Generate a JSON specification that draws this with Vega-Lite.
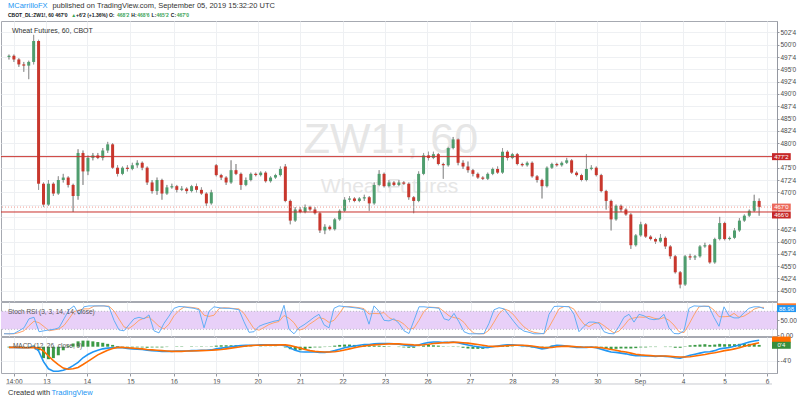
{
"$schema":"https://vega.github.io/schema/vega-lite/v6.json",
"background":"white",
"padding":{"left":0,"top":1,"right":0,"bottom":0},
"spacing":1,
"bounds":"flush",
"config":{
 "font":"Liberation Sans",
 "view":{"stroke":"#a6a9b1","strokeWidth":1},
 "axis":{"labelFont":"Liberation Sans","labelFontSize":6.5,"labelColor":"#4a4a4a","tickColor":"#9598a1","domainColor":"#9598a1","gridColor":"#eef0f3","tickSize":2,"labelPadding":1,"labelOverlap":false},
 "text":{"font":"Liberation Sans"}
},
"datasets":{
 "one":[{}],
 "levels":[{"p":477.25,"lab":"477'2","kind":"line"},{"p":466,"lab":"466'0","kind":"line"},{"p":467,"lab":"467'0","kind":"last"}],
 "band":[{"lo":20,"hi":80}],
 "bars":[
{"i":0,"o":497.5,"h":498,"l":497,"c":497.75,"k":5,"d":6,"m":-0.2,"s":-0.2,"hs":-0.2},
{"i":1,"o":497.75,"h":498,"l":496.5,"c":497,"k":5,"d":5,"m":-0.2,"s":-0.2,"hs":-0.2},
{"i":2,"o":497,"h":497.25,"l":495.5,"c":496,"k":6,"d":5,"m":-0.3,"s":-0.2,"hs":-0.3},
{"i":3,"o":496,"h":496.5,"l":494.5,"c":495.75,"k":15,"d":9,"m":-0.3,"s":-0.25,"hs":-0.2},
{"i":4,"o":495.75,"h":496.75,"l":493,"c":496.5,"k":25,"d":15,"m":-0.3,"s":-0.3,"hs":-0.2},
{"i":5,"o":496.5,"h":502,"l":496,"c":500.75,"k":55,"d":32,"m":0.1,"s":-0.2,"hs":0.3},
{"i":6,"o":500.75,"h":501,"l":470.5,"c":471.75,"k":60,"d":47,"m":-1.2,"s":-0.4,"hs":-1.0},
{"i":7,"o":471.75,"h":472,"l":467,"c":467.5,"k":12,"d":42,"m":-4.2,"s":-1.2,"hs":-3.2},
{"i":8,"o":467.5,"h":472.5,"l":467.25,"c":471.75,"k":15,"d":29,"m":-6.2,"s":-2.6,"hs":-3.5},
{"i":9,"o":471.75,"h":472,"l":469.25,"c":469.75,"k":18,"d":15,"m":-6.9,"s":-3.9,"hs":-3.2},
{"i":10,"o":469.75,"h":473.25,"l":469.5,"c":472.5,"k":20,"d":18,"m":-6.9,"s":-5.0,"hs":-2.4},
{"i":11,"o":472.5,"h":473.75,"l":472,"c":473,"k":25,"d":21,"m":-6.6,"s":-6.0,"hs":-1.0},
{"i":12,"o":473,"h":473.25,"l":471,"c":471.5,"k":55,"d":33,"m":-6.1,"s":-6.3,"hs":0.3},
{"i":13,"o":471.5,"h":471.75,"l":466,"c":469.25,"k":85,"d":55,"m":-5.3,"s":-6.2,"hs":0.9},
{"i":14,"o":469.25,"h":478.75,"l":468.5,"c":478,"k":98,"d":79,"m":-4.4,"s":-5.8,"hs":1.5},
{"i":15,"o":478,"h":478.5,"l":471.5,"c":474.25,"k":70,"d":84,"m":-3.1,"s":-5.0,"hs":1.7},
{"i":16,"o":474.25,"h":477.5,"l":473.5,"c":477,"k":95,"d":88,"m":-2.2,"s":-4.1,"hs":1.7},
{"i":17,"o":477,"h":478,"l":476.5,"c":477.5,"k":98,"d":88,"m":-1.5,"s":-3.2,"hs":1.5},
{"i":18,"o":477.5,"h":478,"l":476.75,"c":477,"k":98,"d":97,"m":-1.0,"s":-2.3,"hs":1.3},
{"i":19,"o":477,"h":479,"l":476.5,"c":478.5,"k":98,"d":98,"m":-0.6,"s":-1.6,"hs":1.1},
{"i":20,"o":478.5,"h":480.25,"l":478,"c":479.75,"k":98,"d":98,"m":-0.4,"s":-1.0,"hs":0.8},
{"i":21,"o":479.75,"h":480,"l":474.75,"c":475,"k":95,"d":97,"m":-0.3,"s":-0.5,"hs":0.5},
{"i":22,"o":475,"h":475.5,"l":473.25,"c":473.75,"k":50,"d":81,"m":-0.2,"s":-0.2,"hs":0.2},
{"i":23,"o":473.75,"h":475.25,"l":473.5,"c":475,"k":18,"d":54,"m":-0.3,"s":-0.2,"hs":-0.1},
{"i":24,"o":475,"h":475.5,"l":474.25,"c":474.75,"k":15,"d":28,"m":-0.5,"s":-0.3,"hs":-0.2},
{"i":25,"o":474.75,"h":476,"l":474.5,"c":475.5,"k":35,"d":23,"m":-0.6,"s":-0.4,"hs":-0.2},
{"i":26,"o":475.5,"h":476.5,"l":475,"c":476,"k":55,"d":35,"m":-0.7,"s":-0.5,"hs":-0.2},
{"i":27,"o":476,"h":476.25,"l":474.5,"c":475,"k":60,"d":50,"m":-0.8,"s":-0.6,"hs":-0.2},
{"i":28,"o":475,"h":475.25,"l":471.5,"c":472,"k":55,"d":57,"m":-1.0,"s":-0.8,"hs":-0.3},
{"i":29,"o":472,"h":472.5,"l":469.75,"c":470.25,"k":68,"d":61,"m":-1.1,"s":-0.9,"hs":-0.2},
{"i":30,"o":470.25,"h":473,"l":469.5,"c":472.5,"k":15,"d":46,"m":-1.2,"s":-1.0,"hs":-0.2},
{"i":31,"o":472.5,"h":472.75,"l":468.5,"c":469.75,"k":8,"d":30,"m":-1.3,"s":-1.1,"hs":-0.2},
{"i":32,"o":469.75,"h":471.5,"l":469.5,"c":471,"k":40,"d":21,"m":-1.3,"s":-1.2,"hs":-0.1},
{"i":33,"o":471,"h":471.75,"l":470.75,"c":471.25,"k":64,"d":37,"m":-1.3,"s":-1.3,"hs":0.0},
{"i":34,"o":471.25,"h":471.5,"l":470,"c":470.5,"k":90,"d":65,"m":-1.2,"s":-1.3,"hs":0.1},
{"i":35,"o":470.5,"h":471.25,"l":470.25,"c":470.75,"k":96,"d":83,"m":-1.2,"s":-1.3,"hs":0.1},
{"i":36,"o":470.75,"h":471,"l":469.75,"c":470.25,"k":95,"d":94,"m":-1.2,"s":-1.2,"hs":0.0},
{"i":37,"o":470.25,"h":471.5,"l":470,"c":471.25,"k":92,"d":94,"m":-1.1,"s":-1.2,"hs":0.1},
{"i":38,"o":471.25,"h":471.75,"l":470,"c":470.5,"k":90,"d":92,"m":-1.1,"s":-1.15,"hs":0.05},
{"i":39,"o":470.5,"h":471,"l":469.5,"c":469.75,"k":85,"d":89,"m":-1.0,"s":-1.1,"hs":0.1},
{"i":40,"o":469.75,"h":470,"l":467.25,"c":467.75,"k":25,"d":67,"m":-1.0,"s":-1.05,"hs":0.05},
{"i":41,"o":467.75,"h":470.5,"l":467.5,"c":470,"k":80,"d":63,"m":-0.9,"s":-1.0,"hs":0.1},
{"i":42,"o":475.5,"h":475.75,"l":473.25,"c":473.5,"k":95,"d":67,"m":-0.6,"s":-0.9,"hs":0.3},
{"i":43,"o":473.5,"h":473.75,"l":472.5,"c":473,"k":92,"d":89,"m":-0.4,"s":-0.8,"hs":0.4},
{"i":44,"o":473,"h":473.25,"l":471.5,"c":472,"k":90,"d":92,"m":-0.2,"s":-0.6,"hs":0.4},
{"i":45,"o":472,"h":476.5,"l":471.75,"c":474.5,"k":90,"d":91,"m":0.0,"s":-0.4,"hs":0.4},
{"i":46,"o":474.5,"h":475.75,"l":473.5,"c":473.75,"k":88,"d":89,"m":0.2,"s":-0.2,"hs":0.4},
{"i":47,"o":473.75,"h":474,"l":470.5,"c":471.5,"k":85,"d":88,"m":0.3,"s":0.0,"hs":0.3},
{"i":48,"o":471.5,"h":473,"l":471.25,"c":472.5,"k":45,"d":73,"m":0.4,"s":0.2,"hs":0.2},
{"i":49,"o":472.5,"h":474,"l":472.25,"c":473.75,"k":10,"d":47,"m":0.4,"s":0.3,"hs":0.1},
{"i":50,"o":473.75,"h":474,"l":473.25,"c":473.5,"k":12,"d":22,"m":0.4,"s":0.4,"hs":0.0},
{"i":51,"o":473.5,"h":474.25,"l":473.25,"c":474,"k":30,"d":17,"m":0.5,"s":0.4,"hs":0.1},
{"i":52,"o":474,"h":474.25,"l":472,"c":472.25,"k":37,"d":26,"m":0.5,"s":0.45,"hs":0.05},
{"i":53,"o":472.25,"h":473.25,"l":472,"c":473,"k":42,"d":36,"m":0.5,"s":0.45,"hs":0.05},
{"i":54,"o":473,"h":473.75,"l":472.75,"c":473.5,"k":47,"d":42,"m":0.5,"s":0.45,"hs":0.05},
{"i":55,"o":473.5,"h":475.25,"l":473.25,"c":474.75,"k":50,"d":46,"m":0.5,"s":0.5,"hs":0.0},
{"i":56,"o":475.25,"h":475.75,"l":468,"c":468.25,"k":100,"d":66,"m":0.3,"s":0.5,"hs":-0.2},
{"i":57,"o":468.25,"h":468.5,"l":463.5,"c":464.25,"k":20,"d":57,"m":-0.4,"s":0.3,"hs":-0.7},
{"i":58,"o":464.25,"h":467,"l":464,"c":466.5,"k":5,"d":42,"m":-1.0,"s":0.0,"hs":-1.0},
{"i":59,"o":466.5,"h":467,"l":465.75,"c":466,"k":25,"d":17,"m":-1.4,"s":-0.4,"hs":-1.0},
{"i":60,"o":466,"h":467.5,"l":465.75,"c":467,"k":35,"d":22,"m":-1.5,"s":-0.8,"hs":-0.7},
{"i":61,"o":467,"h":467.25,"l":466.25,"c":466.5,"k":47,"d":36,"m":-1.5,"s":-1.1,"hs":-0.4},
{"i":62,"o":466.5,"h":467,"l":465.5,"c":465.75,"k":60,"d":47,"m":-1.5,"s":-1.3,"hs":-0.2},
{"i":63,"o":465.75,"h":466,"l":461.75,"c":462.25,"k":70,"d":59,"m":-1.6,"s":-1.4,"hs":-0.2},
{"i":64,"o":462.25,"h":463.5,"l":461.5,"c":463,"k":35,"d":55,"m":-1.6,"s":-1.5,"hs":-0.1},
{"i":65,"o":463,"h":463.25,"l":462.25,"c":462.5,"k":25,"d":43,"m":-1.4,"s":-1.5,"hs":0.1},
{"i":66,"o":462.5,"h":464.75,"l":462.25,"c":464.5,"k":90,"d":50,"m":-1.1,"s":-1.4,"hs":0.3},
{"i":67,"o":464.5,"h":466.5,"l":464.25,"c":466.25,"k":98,"d":71,"m":-0.7,"s":-1.2,"hs":0.5},
{"i":68,"o":466.25,"h":469,"l":466,"c":468.5,"k":96,"d":95,"m":-0.3,"s":-0.9,"hs":0.6},
{"i":69,"o":468.5,"h":469.25,"l":468,"c":468.75,"k":94,"d":96,"m":0.0,"s":-0.6,"hs":0.6},
{"i":70,"o":468.75,"h":469,"l":468,"c":468.25,"k":92,"d":94,"m":0.2,"s":-0.3,"hs":0.5},
{"i":71,"o":468.25,"h":469,"l":468,"c":468.75,"k":90,"d":92,"m":0.4,"s":0.0,"hs":0.4},
{"i":72,"o":468.75,"h":469.5,"l":468.25,"c":469,"k":85,"d":89,"m":0.6,"s":0.2,"hs":0.4},
{"i":73,"o":469,"h":469.25,"l":466.25,"c":467.75,"k":37,"d":71,"m":0.6,"s":0.4,"hs":0.2},
{"i":74,"o":467.75,"h":472,"l":467.5,"c":471.5,"k":98,"d":73,"m":0.8,"s":0.5,"hs":0.3},
{"i":75,"o":471.5,"h":474.5,"l":471.25,"c":473.75,"k":80,"d":72,"m":0.9,"s":0.6,"hs":0.3},
{"i":76,"o":473.75,"h":474,"l":471,"c":471.25,"k":50,"d":76,"m":0.9,"s":0.7,"hs":0.2},
{"i":77,"o":471.25,"h":472.5,"l":471,"c":472,"k":48,"d":59,"m":0.9,"s":0.8,"hs":0.1},
{"i":78,"o":472,"h":472.25,"l":471.25,"c":471.5,"k":55,"d":51,"m":0.8,"s":0.8,"hs":0.0},
{"i":79,"o":471.5,"h":472.5,"l":471.25,"c":472,"k":40,"d":48,"m":0.7,"s":0.8,"hs":-0.1},
{"i":80,"o":472,"h":472.25,"l":471.5,"c":471.75,"k":15,"d":37,"m":0.5,"s":0.7,"hs":-0.2},
{"i":81,"o":471.75,"h":472,"l":468.5,"c":469,"k":6,"d":20,"m":0.3,"s":0.6,"hs":-0.3},
{"i":82,"o":469,"h":469.25,"l":465.75,"c":468.25,"k":50,"d":24,"m":0.2,"s":0.5,"hs":-0.3},
{"i":83,"o":468.25,"h":474.25,"l":468,"c":473.75,"k":95,"d":50,"m":0.5,"s":0.45,"hs":0.05},
{"i":84,"o":473.75,"h":478,"l":473.5,"c":477.5,"k":95,"d":80,"m":0.9,"s":0.55,"hs":0.35},
{"i":85,"o":477.5,"h":478.25,"l":476.5,"c":477,"k":93,"d":94,"m":1.2,"s":0.7,"hs":0.5},
{"i":86,"o":477,"h":478.25,"l":476.75,"c":477.75,"k":92,"d":93,"m":1.3,"s":0.9,"hs":0.4},
{"i":87,"o":477.75,"h":478,"l":475.5,"c":475.75,"k":90,"d":92,"m":1.3,"s":1.0,"hs":0.3},
{"i":88,"o":475.75,"h":476,"l":472.75,"c":475.5,"k":55,"d":79,"m":1.2,"s":1.1,"hs":0.1},
{"i":89,"o":475.5,"h":479.25,"l":475.25,"c":479,"k":50,"d":65,"m":1.2,"s":1.15,"hs":0.05},
{"i":90,"o":479,"h":481.25,"l":478.75,"c":480.75,"k":73,"d":59,"m":1.3,"s":1.2,"hs":0.1},
{"i":91,"o":480.75,"h":481,"l":475.5,"c":476,"k":45,"d":56,"m":1.1,"s":1.2,"hs":-0.1},
{"i":92,"o":476,"h":476.5,"l":474.75,"c":475.25,"k":12,"d":43,"m":0.8,"s":1.1,"hs":-0.3},
{"i":93,"o":475.25,"h":476.25,"l":474,"c":474.5,"k":5,"d":21,"m":0.5,"s":1.0,"hs":-0.5},
{"i":94,"o":474.5,"h":474.75,"l":473.25,"c":473.75,"k":5,"d":7,"m":0.2,"s":0.8,"hs":-0.6},
{"i":95,"o":473.75,"h":474,"l":472.75,"c":473,"k":5,"d":5,"m":0.0,"s":0.6,"hs":-0.6},
{"i":96,"o":473,"h":473.25,"l":472.5,"c":472.75,"k":6,"d":5,"m":-0.2,"s":0.4,"hs":-0.6},
{"i":97,"o":472.75,"h":474,"l":472.5,"c":473.75,"k":40,"d":17,"m":-0.2,"s":0.2,"hs":-0.4},
{"i":98,"o":473.75,"h":475,"l":473.5,"c":474.75,"k":85,"d":44,"m":0.0,"s":0.1,"hs":-0.1},
{"i":99,"o":474.75,"h":475.25,"l":473.75,"c":474,"k":92,"d":72,"m":0.2,"s":0.1,"hs":0.1},
{"i":100,"o":474,"h":479,"l":473.75,"c":478.25,"k":88,"d":88,"m":0.4,"s":0.2,"hs":0.2},
{"i":101,"o":478.25,"h":478.5,"l":476.5,"c":477,"k":67,"d":82,"m":0.5,"s":0.3,"hs":0.2},
{"i":102,"o":477,"h":478,"l":476.75,"c":477.75,"k":45,"d":67,"m":0.5,"s":0.4,"hs":0.1},
{"i":103,"o":477.75,"h":478,"l":475.5,"c":475.75,"k":25,"d":46,"m":0.4,"s":0.4,"hs":0.0},
{"i":104,"o":475.75,"h":476,"l":475.25,"c":475.5,"k":14,"d":28,"m":0.3,"s":0.4,"hs":-0.1},
{"i":105,"o":475.5,"h":476.25,"l":475.25,"c":476,"k":10,"d":16,"m":0.2,"s":0.3,"hs":-0.1},
{"i":106,"o":476,"h":476.25,"l":473,"c":473.25,"k":5,"d":10,"m":0.0,"s":0.2,"hs":-0.2},
{"i":107,"o":473.25,"h":473.5,"l":472,"c":472.5,"k":5,"d":7,"m":-0.3,"s":0.0,"hs":-0.3},
{"i":108,"o":472.5,"h":472.75,"l":468.75,"c":471.25,"k":6,"d":5,"m":-0.6,"s":-0.2,"hs":-0.4},
{"i":109,"o":471.25,"h":475.25,"l":471,"c":475,"k":70,"d":27,"m":-0.4,"s":-0.3,"hs":-0.1},
{"i":110,"o":475,"h":476,"l":474.75,"c":475.75,"k":96,"d":57,"m":0.1,"s":-0.2,"hs":0.3},
{"i":111,"o":475.75,"h":476,"l":475.25,"c":475.5,"k":97,"d":88,"m":0.4,"s":0.0,"hs":0.4},
{"i":112,"o":475.5,"h":476.25,"l":475.25,"c":476,"k":96,"d":96,"m":0.3,"s":0.1,"hs":0.2},
{"i":113,"o":476,"h":477,"l":475.75,"c":476.5,"k":95,"d":96,"m":0.2,"s":0.15,"hs":0.05},
{"i":114,"o":476.5,"h":476.75,"l":473.75,"c":474,"k":70,"d":87,"m":0.0,"s":0.1,"hs":-0.1},
{"i":115,"o":474,"h":474.25,"l":473.25,"c":473.5,"k":12,"d":59,"m":-0.2,"s":0.0,"hs":-0.2},
{"i":116,"o":473.5,"h":473.75,"l":472.25,"c":472.5,"k":30,"d":37,"m":-0.2,"s":-0.1,"hs":-0.1},
{"i":117,"o":472.5,"h":477.75,"l":472.25,"c":474.75,"k":44,"d":29,"m":-0.2,"s":-0.15,"hs":-0.05},
{"i":118,"o":474.75,"h":475.5,"l":474.5,"c":475,"k":44,"d":39,"m":-0.1,"s":-0.15,"hs":0.05},
{"i":119,"o":475,"h":475.25,"l":473.25,"c":473.5,"k":40,"d":43,"m":-0.3,"s":-0.2,"hs":-0.1},
{"i":120,"o":473.5,"h":473.75,"l":470,"c":470.25,"k":12,"d":32,"m":-0.7,"s":-0.3,"hs":-0.4},
{"i":121,"o":470.25,"h":470.5,"l":466.5,"c":468.25,"k":6,"d":19,"m":-1.1,"s":-0.5,"hs":-0.6},
{"i":122,"o":468.25,"h":468.5,"l":462.25,"c":464.5,"k":5,"d":8,"m":-1.5,"s":-0.8,"hs":-0.7},
{"i":123,"o":464.5,"h":467.5,"l":464.25,"c":467.25,"k":30,"d":14,"m":-1.6,"s":-1.0,"hs":-0.6},
{"i":124,"o":467.25,"h":467.5,"l":466,"c":466.5,"k":60,"d":32,"m":-1.8,"s":-1.3,"hs":-0.5},
{"i":125,"o":466.5,"h":466.75,"l":465.25,"c":465.5,"k":70,"d":53,"m":-2.0,"s":-1.5,"hs":-0.5},
{"i":126,"o":465.5,"h":465.75,"l":458.5,"c":459.25,"k":44,"d":58,"m":-2.3,"s":-1.8,"hs":-0.5},
{"i":127,"o":459.25,"h":461.5,"l":459,"c":461.25,"k":70,"d":61,"m":-2.5,"s":-2.1,"hs":-0.4},
{"i":128,"o":461.25,"h":464,"l":461,"c":463.5,"k":65,"d":60,"m":-2.5,"s":-2.3,"hs":-0.2},
{"i":129,"o":463.5,"h":463.75,"l":460.75,"c":461,"k":55,"d":63,"m":-2.6,"s":-2.4,"hs":-0.2},
{"i":130,"o":461,"h":461.25,"l":460.25,"c":460.5,"k":52,"d":57,"m":-2.6,"s":-2.5,"hs":-0.1},
{"i":131,"o":460.5,"h":460.75,"l":459.5,"c":460,"k":55,"d":54,"m":-2.7,"s":-2.6,"hs":-0.1},
{"i":132,"o":460,"h":461.5,"l":459.75,"c":460.75,"k":70,"d":59,"m":-2.6,"s":-2.6,"hs":0.0},
{"i":133,"o":460.75,"h":461,"l":458.5,"c":459,"k":25,"d":50,"m":-2.7,"s":-2.6,"hs":-0.1},
{"i":134,"o":459,"h":459.25,"l":456.5,"c":457,"k":6,"d":34,"m":-2.8,"s":-2.7,"hs":-0.1},
{"i":135,"o":457,"h":457.25,"l":453.5,"c":453.75,"k":5,"d":12,"m":-3.1,"s":-2.8,"hs":-0.3},
{"i":136,"o":453.75,"h":454,"l":450.5,"c":451.25,"k":15,"d":9,"m":-3.2,"s":-2.9,"hs":-0.3},
{"i":137,"o":451.25,"h":457.25,"l":451,"c":457,"k":90,"d":37,"m":-2.8,"s":-2.9,"hs":0.1},
{"i":138,"o":457,"h":457.5,"l":456.25,"c":456.75,"k":98,"d":68,"m":-2.4,"s":-2.8,"hs":0.4},
{"i":139,"o":456.75,"h":457.25,"l":456.25,"c":457,"k":97,"d":95,"m":-2.1,"s":-2.6,"hs":0.5},
{"i":140,"o":457,"h":459.25,"l":456.75,"c":459,"k":97,"d":97,"m":-1.8,"s":-2.4,"hs":0.6},
{"i":141,"o":459,"h":459.75,"l":458.75,"c":459.25,"k":96,"d":97,"m":-1.5,"s":-2.2,"hs":0.7},
{"i":142,"o":459.25,"h":459.5,"l":455.5,"c":455.75,"k":60,"d":84,"m":-1.4,"s":-1.9,"hs":0.5},
{"i":143,"o":455.75,"h":460.75,"l":455.5,"c":460.5,"k":30,"d":62,"m":-1.1,"s":-1.7,"hs":0.6},
{"i":144,"o":460.5,"h":465,"l":460.25,"c":463.75,"k":95,"d":62,"m":-0.6,"s":-1.4,"hs":0.8},
{"i":145,"o":463.75,"h":464,"l":460.25,"c":460.5,"k":65,"d":63,"m":-0.4,"s":-1.1,"hs":0.7},
{"i":146,"o":460.5,"h":461,"l":460.25,"c":460.75,"k":58,"d":73,"m":-0.2,"s":-0.9,"hs":0.7},
{"i":147,"o":460.75,"h":462.75,"l":460.5,"c":462.25,"k":58,"d":60,"m":0.1,"s":-0.6,"hs":0.7},
{"i":148,"o":462.25,"h":464.75,"l":462,"c":464.25,"k":75,"d":64,"m":0.5,"s":-0.3,"hs":0.8},
{"i":149,"o":464.25,"h":465.5,"l":464,"c":465.25,"k":90,"d":74,"m":0.9,"s":0.1,"hs":0.8},
{"i":150,"o":465.25,"h":466.5,"l":465,"c":466.25,"k":95,"d":87,"m":1.3,"s":0.5,"hs":0.8},
{"i":151,"o":466.25,"h":469.5,"l":466,"c":468.25,"k":95,"d":93,"m":1.6,"s":0.8,"hs":0.8},
{"i":152,"o":468.25,"h":468.75,"l":465.25,"c":467,"k":89,"d":93,"m":1.8,"s":1.1,"hs":0.5}
 ]
},
"vconcat":[
 {
  "width":776,"height":280,
  "resolve":{"axis":{"x":"independent","y":"independent"}},
  "layer":[
   {"data":{"name":"bars"},"mark":{"type":"rule","color":"#9c9c9c","strokeWidth":1},
    "encoding":{
     "x":{"field":"i","type":"quantitative","scale":{"domain":[-0.6,154.6],"nice":false,"zero":false},
          "axis":{"values":[1,7.6,15.8,24.6,33.4,42,50.4,59,67.6,76.2,84.8,93.4,102,110.6,119.2,127.8,136.6,145,153.6],"grid":true,"gridColor":"#eef0f3","labels":false,"ticks":false,"domain":false,"title":null}},
     "y":{"field":"l","type":"quantitative","scale":{"domain":[447.91,504.82],"nice":false,"zero":false},
          "axis":{"orient":"right","values":[450,452.5,455,457.5,460,462.5,465,467.5,470,472.5,475,477.5,480,482.5,485,487.5,490,492.5,495,497.5,500,502.5],
                  "labelExpr":"indexof([465,467.5,477.5], datum.value) >= 0 ? '' : floor(datum.value) + \"'\" + (datum.value % 1 == 0.5 ? '4' : '0')","grid":true,"gridColor":"#eef0f3","title":null,"labelOverlap":false,"labelSeparation":0}},
     "y2":{"field":"h"}}},
   {"data":{"name":"one"},"mark":{"type":"text","fontSize":43,"color":"#e6e6e6","align":"center","baseline":"alphabetic"},
    "encoding":{"x":{"datum":77.4,"type":"quantitative","axis":null},"y":{"datum":478,"type":"quantitative","axis":null},"text":{"value":"ZW1!, 60"}}},
   {"data":{"name":"one"},"mark":{"type":"text","fontSize":21,"color":"#e6e6e6","align":"center","baseline":"alphabetic"},
    "encoding":{"x":{"datum":77.1,"type":"quantitative","axis":null},"y":{"datum":469.9,"type":"quantitative","axis":null},"text":{"value":"Wheat Futures"}}},
   {"data":{"name":"bars"},"mark":{"type":"rule","color":"#9c9c9c","strokeWidth":1},
    "encoding":{"x":{"field":"i","type":"quantitative","axis":null},"y":{"field":"l","type":"quantitative","axis":null},"y2":{"field":"h"}}},
   {"data":{"name":"bars"},"mark":{"type":"bar","width":3},
    "encoding":{"x":{"field":"i","type":"quantitative","axis":null},"y":{"field":"o","type":"quantitative","axis":null},"y2":{"field":"c"},
     "color":{"condition":{"test":"datum.c >= datum.o","value":"#4f9d6e"},"value":"#c8372d"}}},
   {"data":{"name":"levels"},"mark":{"type":"rule","strokeWidth":1},
    "encoding":{"y":{"field":"p","type":"quantitative","axis":null},
     "color":{"condition":{"test":"datum.kind == 'last'","value":"#f09a90"},"value":"#c9302c"},
     "strokeDash":{"condition":{"test":"datum.kind == 'last'","value":[1,2]},"value":[1,0]}}},
   {"data":{"name":"levels"},"transform":[{"filter":"datum.p != 466"}],"mark":{"type":"rect","height":7},
    "encoding":{"x":{"datum":154.6,"type":"quantitative","axis":null},"x2":{"datum":158.4},"y":{"field":"p","type":"quantitative","axis":null},
     "color":{"condition":{"test":"datum.kind == 'last'","value":"#ec6a5c"},"value":"#c62828"}}},
   {"data":{"name":"levels"},"transform":[{"filter":"datum.p != 466"}],"mark":{"type":"text","fontSize":6,"color":"white","align":"center","baseline":"middle"},
    "encoding":{"x":{"datum":156.5,"type":"quantitative","axis":null},"y":{"field":"p","type":"quantitative","axis":null},"text":{"field":"lab"}}},
   {"data":{"name":"levels"},"transform":[{"filter":"datum.p == 466"}],"mark":{"type":"rect","height":7,"color":"#c62828","yOffset":3},
    "encoding":{"x":{"datum":154.6,"type":"quantitative","axis":null},"x2":{"datum":158.4},"y":{"field":"p","type":"quantitative","axis":null}}},
   {"data":{"name":"levels"},"transform":[{"filter":"datum.p == 466"}],"mark":{"type":"text","fontSize":6,"color":"white","align":"center","baseline":"middle","yOffset":3},
    "encoding":{"x":{"datum":156.5,"type":"quantitative","axis":null},"y":{"field":"p","type":"quantitative","axis":null},"text":{"field":"lab"}}},
   {"data":{"name":"one"},"mark":{"type":"text","fontSize":7,"color":"#333333","align":"left","baseline":"middle"},
    "encoding":{"x":{"datum":0.6,"type":"quantitative","axis":null},"y":{"datum":502.8,"type":"quantitative","axis":null},"text":{"value":"Wheat Futures, 60, CBOT"}}},
   {"data":{"name":"one"},"mark":{"type":"text","fontSize":7.5,"color":"#2196f3","align":"left","baseline":"middle"},
    "encoding":{"x":{"datum":-0.2,"type":"quantitative","axis":null},"y":{"datum":507.77,"type":"quantitative","axis":null},"text":{"value":"MCarrilloFX"}}},
   {"data":{"name":"one"},"mark":{"type":"text","fontSize":7.5,"color":"#333333","align":"left","baseline":"middle"},
    "encoding":{"x":{"datum":8.8,"type":"quantitative","axis":null},"y":{"datum":507.77,"type":"quantitative","axis":null},"text":{"value":"published on TradingView.com, September 05, 2019 15:32:20 UTC"}}},
   {"data":{"name":"one"},"mark":{"type":"text","fontSize":5,"fontWeight":"bold","color":"#131722","align":"left","baseline":"middle"},
    "encoding":{"x":{"datum":-0.2,"type":"quantitative","axis":null},"y":{"datum":506.04,"type":"quantitative","axis":null},"text":{"value":"CBOT_DL:ZW1!, 60  467'0"}}},
   {"data":{"name":"one"},"mark":{"type":"text","fontSize":5,"fontWeight":"bold","color":"#3aa356","align":"left","baseline":"middle"},
    "encoding":{"x":{"datum":12.6,"type":"quantitative","axis":null},"y":{"datum":506.04,"type":"quantitative","axis":null},"text":{"value":"▲"}}},
   {"data":{"name":"one"},"mark":{"type":"text","fontSize":5,"fontWeight":"bold","color":"#131722","align":"left","baseline":"middle"},
    "encoding":{"x":{"datum":13.6,"type":"quantitative","axis":null},"y":{"datum":506.04,"type":"quantitative","axis":null},"text":{"value":"+6'2 (+1.36%) O:"}}},
   {"data":{"name":"one"},"mark":{"type":"text","fontSize":5,"fontWeight":"bold","color":"#3aa356","align":"left","baseline":"middle"},
    "encoding":{"x":{"datum":21.9,"type":"quantitative","axis":null},"y":{"datum":506.04,"type":"quantitative","axis":null},"text":{"value":"468'2"}}},
   {"data":{"name":"one"},"mark":{"type":"text","fontSize":5,"fontWeight":"bold","color":"#131722","align":"left","baseline":"middle"},
    "encoding":{"x":{"datum":24.8,"type":"quantitative","axis":null},"y":{"datum":506.04,"type":"quantitative","axis":null},"text":{"value":"H:"}}},
   {"data":{"name":"one"},"mark":{"type":"text","fontSize":5,"fontWeight":"bold","color":"#3aa356","align":"left","baseline":"middle"},
    "encoding":{"x":{"datum":26.0,"type":"quantitative","axis":null},"y":{"datum":506.04,"type":"quantitative","axis":null},"text":{"value":"468'6"}}},
   {"data":{"name":"one"},"mark":{"type":"text","fontSize":5,"fontWeight":"bold","color":"#131722","align":"left","baseline":"middle"},
    "encoding":{"x":{"datum":28.9,"type":"quantitative","axis":null},"y":{"datum":506.04,"type":"quantitative","axis":null},"text":{"value":"L:"}}},
   {"data":{"name":"one"},"mark":{"type":"text","fontSize":5,"fontWeight":"bold","color":"#3aa356","align":"left","baseline":"middle"},
    "encoding":{"x":{"datum":29.9,"type":"quantitative","axis":null},"y":{"datum":506.04,"type":"quantitative","axis":null},"text":{"value":"465'2"}}},
   {"data":{"name":"one"},"mark":{"type":"text","fontSize":5,"fontWeight":"bold","color":"#131722","align":"left","baseline":"middle"},
    "encoding":{"x":{"datum":32.8,"type":"quantitative","axis":null},"y":{"datum":506.04,"type":"quantitative","axis":null},"text":{"value":"C:"}}},
   {"data":{"name":"one"},"mark":{"type":"text","fontSize":5,"fontWeight":"bold","color":"#3aa356","align":"left","baseline":"middle"},
    "encoding":{"x":{"datum":34.0,"type":"quantitative","axis":null},"y":{"datum":506.04,"type":"quantitative","axis":null},"text":{"value":"467'0"}}}
  ]
 },
 {
  "width":776,"height":34,
  "resolve":{"axis":{"x":"independent","y":"independent"}},
  "layer":[
   {"data":{"name":"band"},"mark":{"type":"rect","color":"#e8d0f8"},
    "encoding":{"y":{"field":"lo","type":"quantitative","scale":{"domain":[-2.3,111],"nice":false,"zero":false},
      "axis":{"orient":"right","values":[0,50],"format":".2f","grid":false,"title":null}},"y2":{"field":"hi"}}},
   {"data":{"name":"band"},"mark":{"type":"rule","color":"#b8b8c4","strokeDash":[1,2]},
    "encoding":{"y":{"field":"lo","type":"quantitative","axis":null}}},
   {"data":{"name":"band"},"mark":{"type":"rule","color":"#b8b8c4","strokeDash":[1,2]},
    "encoding":{"y":{"field":"hi","type":"quantitative","axis":null}}},
   {"data":{"name":"bars"},"mark":{"type":"line","color":"#ffa36c","strokeWidth":1},
    "encoding":{"x":{"field":"i","type":"quantitative","scale":{"domain":[-0.6,154.6],"nice":false,"zero":false},
      "axis":{"values":[1,7.6,15.8,24.6,33.4,42,50.4,59,67.6,76.2,84.8,93.4,102,110.6,119.2,127.8,136.6,145,153.6],"grid":true,"gridColor":"#eef0f3","labels":false,"ticks":false,"domain":false,"title":null}},
     "y":{"field":"d","type":"quantitative","axis":null}}},
   {"data":{"name":"bars"},"mark":{"type":"line","color":"#62aef5","strokeWidth":1},
    "encoding":{"x":{"field":"i","type":"quantitative","axis":null},"y":{"field":"k","type":"quantitative","axis":null}}},
   {"data":{"name":"one"},"mark":{"type":"text","fontSize":6.5,"color":"#555555","align":"left","baseline":"middle"},
    "encoding":{"x":{"datum":0.8,"type":"quantitative","axis":null},"y":{"datum":77.7,"type":"quantitative","axis":null},"text":{"value":"Stoch RSI (3, 3, 14, 14, close)"}}},
   {"data":{"name":"one"},"mark":{"type":"rect","height":7,"color":"#ff7a2e"},
    "encoding":{"x":{"datum":154.6,"type":"quantitative","axis":null},"x2":{"datum":158.4},"y":{"datum":95,"type":"quantitative","axis":null}}},
   {"data":{"name":"one"},"mark":{"type":"rect","height":7,"color":"#2196f3"},
    "encoding":{"x":{"datum":154.6,"type":"quantitative","axis":null},"x2":{"datum":158.4},"y":{"datum":89,"type":"quantitative","axis":null}}},
   {"data":{"name":"one"},"mark":{"type":"text","fontSize":6,"color":"white","align":"center","baseline":"middle"},
    "encoding":{"x":{"datum":156.5,"type":"quantitative","axis":null},"y":{"datum":89,"type":"quantitative","axis":null},"text":{"value":"88.98"}}}
  ]
 },
 {
  "width":776,"height":36,
  "resolve":{"axis":{"x":"independent","y":"independent"}},
  "layer":[
   {"data":{"name":"bars"},"mark":{"type":"bar","width":3,"color":"#3b9a45"},
    "encoding":{"x":{"field":"i","type":"quantitative","scale":{"domain":[-0.6,154.6],"nice":false,"zero":false},
      "axis":{"values":[1,7.6,15.8,24.6,33.4,42,50.4,59,67.6,76.2,84.8,93.4,102,110.6,119.2,127.8,136.6,145,153.6],
       "labelExpr":"['14:00','13','14','15','16','19','20','21','22','23','26','27','28','29','30','Sep','4','5','6'][indexof([1,7.6,15.8,24.6,33.4,42,50.4,59,67.6,76.2,84.8,93.4,102,110.6,119.2,127.8,136.6,145,153.6], datum.value)]",
       "grid":true,"gridColor":"#eef0f3","title":null,"tickSize":3,"labelPadding":2,"labelFlush":false,"labelOverlap":false,"domain":false}},
     "y":{"field":"hs","type":"quantitative","scale":{"domain":[-7.37,2.72],"nice":false,"zero":false},
      "axis":{"orient":"right","values":[-4],"labelExpr":"datum.value == -4 ? \"-4'0\" : ''","grid":true,"gridColor":"#eef0f3","title":null}}}},
   {"data":{"name":"bars"},"mark":{"type":"line","color":"#2196f3","strokeWidth":1.6},
    "encoding":{"x":{"field":"i","type":"quantitative","axis":null},"y":{"field":"m","type":"quantitative","axis":null}}},
   {"data":{"name":"bars"},"mark":{"type":"line","color":"#ff6d00","strokeWidth":1.6},
    "encoding":{"x":{"field":"i","type":"quantitative","axis":null},"y":{"field":"s","type":"quantitative","axis":null}}},
   {"data":{"name":"one"},"mark":{"type":"text","fontSize":6.5,"color":"#555555","align":"left","baseline":"middle"},
    "encoding":{"x":{"datum":0.8,"type":"quantitative","axis":null},"y":{"datum":0.2,"type":"quantitative","axis":null},"text":{"value":"MACD (12, 26, close, 9)"}}},
   {"data":{"name":"one"},"mark":{"type":"rect","height":6,"color":"#ff6d00"},
    "encoding":{"x":{"datum":154.6,"type":"quantitative","axis":null},"x2":{"datum":158.4},"y":{"datum":2.0,"type":"quantitative","axis":null}}},
   {"data":{"name":"one"},"mark":{"type":"rect","height":7,"color":"#388e3c"},
    "encoding":{"x":{"datum":154.6,"type":"quantitative","axis":null},"x2":{"datum":158.4},"y":{"datum":0.4,"type":"quantitative","axis":null}}},
   {"data":{"name":"one"},"mark":{"type":"text","fontSize":6,"color":"white","align":"center","baseline":"middle"},
    "encoding":{"x":{"datum":156.5,"type":"quantitative","axis":null},"y":{"datum":0.4,"type":"quantitative","axis":null},"text":{"value":"0'4"}}},
   {"data":{"name":"one"},"mark":{"type":"rule","color":"#c8cad0","strokeWidth":1},
    "encoding":{"x":{"datum":-0.6,"type":"quantitative","axis":null},"x2":{"datum":154.6},"y":{"datum":-10.45,"type":"quantitative","axis":null}}},
   {"data":{"name":"one"},"mark":{"type":"text","fontSize":7.5,"color":"#333333","align":"left","baseline":"middle"},
    "encoding":{"x":{"datum":-0.2,"type":"quantitative","axis":null},"y":{"datum":-12.97,"type":"quantitative","axis":null},"text":{"value":"Created with"}}},
   {"data":{"name":"one"},"mark":{"type":"text","fontSize":7.5,"color":"#2196f3","align":"left","baseline":"middle"},
    "encoding":{"x":{"datum":8.6,"type":"quantitative","axis":null},"y":{"datum":-12.97,"type":"quantitative","axis":null},"text":{"value":"TradingView"}}}
  ]
 }
]
}
